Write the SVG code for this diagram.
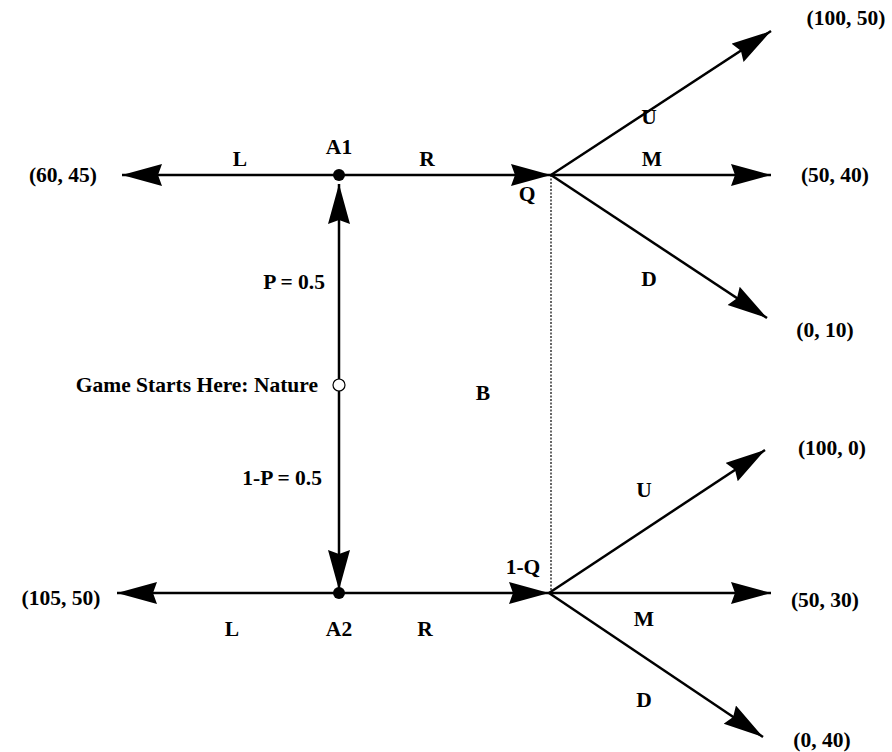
<svg xmlns="http://www.w3.org/2000/svg" width="892" height="752" viewBox="0 0 892 752">
<style>
text{font-family:"Liberation Serif","Times New Roman",serif;font-weight:bold;font-size:21.5px;fill:#000}
.ln{stroke:#000;stroke-width:2.5;fill:none}
.dot{stroke:#000;stroke-width:1.2;fill:none;stroke-dasharray:2 1.5}
</style>
<defs>
<marker id="ah" markerUnits="userSpaceOnUse" markerWidth="44" markerHeight="26" refX="40" refY="11" orient="auto-start-reverse" viewBox="0 0 44 26">
<path d="M0,0 L40,11 L0,22 L4,11 Z" fill="#000"/>
</marker>
</defs>
<rect width="892" height="752" fill="#fff"/>
<g id="connectors">
<line class="ln" x1="339" y1="175" x2="122" y2="175" marker-end="url(#ah)"/>
<line class="ln" x1="339" y1="175" x2="551" y2="175" marker-end="url(#ah)"/>
<line class="ln" x1="339" y1="593" x2="117" y2="593" marker-end="url(#ah)"/>
<line class="ln" x1="339" y1="593" x2="549" y2="593" marker-end="url(#ah)"/>
<line class="ln" x1="339" y1="184" x2="339" y2="590" marker-start="url(#ah)" marker-end="url(#ah)"/>
<line class="ln" x1="551" y1="175" x2="771" y2="31" marker-end="url(#ah)"/>
<line class="ln" x1="551" y1="175" x2="771" y2="175" marker-end="url(#ah)"/>
<line class="ln" x1="551" y1="175" x2="767" y2="318" marker-end="url(#ah)"/>
<line class="ln" x1="549" y1="593" x2="765" y2="450" marker-end="url(#ah)"/>
<line class="ln" x1="549" y1="593" x2="771" y2="593" marker-end="url(#ah)"/>
<line class="ln" x1="549" y1="593" x2="763" y2="737" marker-end="url(#ah)"/>
<line class="dot" x1="551" y1="175" x2="551" y2="593"/>
</g>
<g id="A1"><circle cx="339" cy="175" r="6" fill="#000"/><text x="339" y="154" text-anchor="middle">A1</text></g>
<g id="A2"><circle cx="339" cy="593" r="6" fill="#000"/><text x="339" y="636" text-anchor="middle">A2</text></g>
<g id="Nature"><circle cx="339" cy="385" r="6" fill="#fff" stroke="#000" stroke-width="1.2"/><text x="318" y="392" text-anchor="end">Game Starts Here: Nature</text></g>
<g id="Q"><text x="527" y="201" text-anchor="middle">Q</text></g>
<g id="Q1"><text x="523" y="574" text-anchor="middle">1-Q</text></g>
<g id="labels">
<text x="240" y="166" text-anchor="middle">L</text>
<text x="427" y="166" text-anchor="middle">R</text>
<text x="232" y="636" text-anchor="middle">L</text>
<text x="425" y="636" text-anchor="middle">R</text>
<text x="325" y="289" text-anchor="end">P = 0.5</text>
<text x="322" y="485" text-anchor="end">1-P = 0.5</text>
<text x="483" y="400" text-anchor="middle">B</text>
<text x="649" y="124" text-anchor="middle">U</text>
<text x="652" y="166" text-anchor="middle">M</text>
<text x="649" y="286" text-anchor="middle">D</text>
<text x="644" y="497" text-anchor="middle">U</text>
<text x="644" y="626" text-anchor="middle">M</text>
<text x="644" y="707" text-anchor="middle">D</text>
</g>
<g id="payoffs">
<text x="63" y="182" text-anchor="middle">(60, 45)</text>
<text x="61" y="605" text-anchor="middle">(105, 50)</text>
<text x="846" y="25" text-anchor="middle">(100, 50)</text>
<text x="835" y="182" text-anchor="middle">(50, 40)</text>
<text x="825" y="337" text-anchor="middle">(0, 10)</text>
<text x="832" y="455" text-anchor="middle">(100, 0)</text>
<text x="825" y="607" text-anchor="middle">(50, 30)</text>
<text x="822" y="747" text-anchor="middle">(0, 40)</text>
</g>
</svg>
